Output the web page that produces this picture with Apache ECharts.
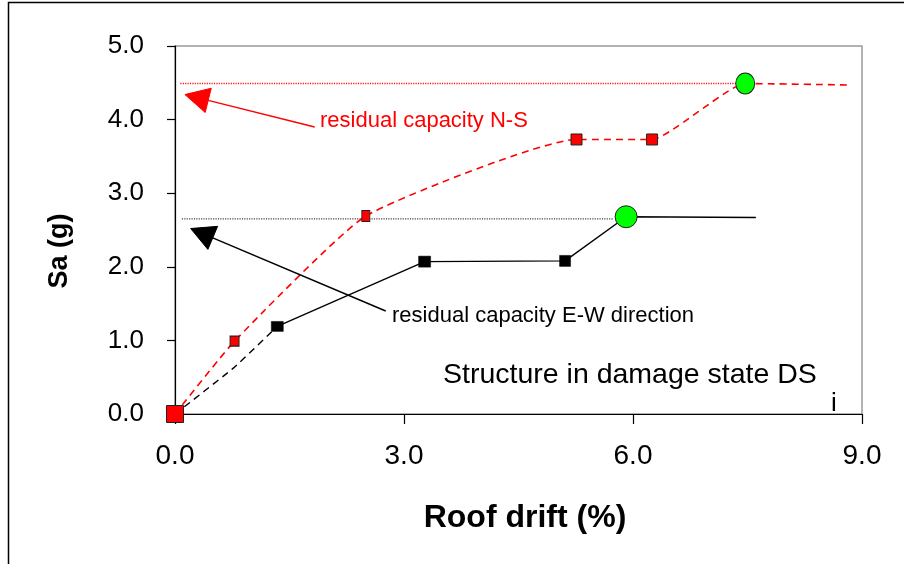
<!DOCTYPE html>
<html><head><meta charset="utf-8">
<script src="https://cdn.jsdelivr.net/npm/echarts@6/dist/echarts.min.js"></script>
<style>html,body{margin:0;padding:0;background:#fff}#c{width:904px;height:564px}</style>
</head><body><div id="c"></div>
<script>
// ---------- data ----------
const xTickLabels = ['0.0', '3.0', '6.0', '9.0'];
const yTickLabels = ['0.0', '1.0', '2.0', '3.0', '4.0', '5.0'];

// N-S capacity curve (red dashed, smoothed)
const nsDrift = [0, 0.78, 2.50, 5.26, 6.25, 7.47, 8.86];
const nsSa    = [0, 0.99, 2.69, 3.73, 3.73, 4.49, 4.47];

// E-W capacity curve: dashed start, then solid
const ewDashDrift = [0, 0.76, 1.34];
const ewDashSa    = [0, 0.62, 1.19];
const ewDrift = [1.34, 3.27, 5.11, 5.91, 7.61];
const ewSa    = [1.19, 2.07, 2.08, 2.68, 2.67];

// marked points
const nsSquareIdx = [0, 1, 2, 3, 4];
const nsCircleIdx = [5];
const ewSquareIdx = [0, 1, 2];
const ewCircleIdx = [3];

// residual capacity levels (dotted)
const nsResidualSa = 4.49, nsResidualFrom = 0.07, nsResidualTo = 7.35;
const ewResidualSa = 2.65, ewResidualFrom = 0.09, ewResidualTo = 5.75;

// annotation arrows [fromX, fromY, toX(tip), toY(tip)]
const arrowFrom = [[1.83, 3.90], [2.76, 1.40]];
const arrowTip  = [[0.13, 4.34], [0.205, 2.52]];

// ---------- styles ----------
const FONT = "'Liberation Sans', Arial, sans-serif";
const nsSquareSizes = [[17, 17], [9, 10], [8, 11], [11, 11], [11, 11]];
const nsCircleSizes = [[19, 21]];
const ewSquareSizes = [[12, 10], [12, 11], [11, 11]];
const ewCircleSizes = [[22, 22]];
const arrowColors = ['#ff0000', '#000000'];

const zip = (a, b) => a.map((v, i) => [v, b[i]]);
const pick = (xs, ys, idx) => idx.map(i => [xs[i], ys[i]]);

const chart = echarts.init(document.getElementById('c'), null, {renderer: 'canvas'});
const option = {
  animation: false,
  backgroundColor: '#ffffff',
  grid: {left: 175, right: 42, top: 46, bottom: 150, show: true, borderColor: '#9a9a9a', borderWidth: 1.5, backgroundColor: 'transparent'},
  xAxis: {
    type: 'value', min: 0, max: 9, interval: 3,
    axisLine: {show: true, onZero: false, lineStyle: {color: '#000', width: 1.2}},
    axisTick: {show: true, inside: false, length: 10, lineStyle: {color: '#000', width: 1.2}},
    splitLine: {show: false},
    axisLabel: {margin: 28, fontFamily: FONT, fontSize: 28, color: '#000',
      formatter: v => xTickLabels[Math.round(v / 3)]}
  },
  yAxis: {
    type: 'value', min: 0, max: 5, interval: 1,
    axisLine: {show: true, onZero: false, lineStyle: {color: '#000', width: 1.2}},
    axisTick: {show: true, inside: false, length: 8, lineStyle: {color: '#000', width: 1.2}},
    splitLine: {show: false},
    axisLabel: {margin: 31, fontFamily: FONT, fontSize: 26, color: '#000',
      formatter: v => yTickLabels[Math.round(v)]}
  },
  graphic: [
    {type: 'rect', shape: {x: 8.5, y: 2.5, width: 2000, height: 2000}, style: {fill: 'none', stroke: '#000', lineWidth: 1.5}, z: 100},
    {type: 'text', x: 60, y: 251, rotation: Math.PI / 2,
      style: {text: 'Sa (g)', fontFamily: FONT, fontWeight: 'bold', fontSize: 27, fill: '#000', align: 'center', verticalAlign: 'middle'}},
    {type: 'text', x: 525, y: 518,
      style: {text: 'Roof drift (%)', fontFamily: FONT, fontWeight: 'bold', fontSize: 32, fill: '#000', align: 'center', verticalAlign: 'middle'}},
    {type: 'text', x: 320, y: 121,
      style: {text: 'residual capacity N-S', fontFamily: FONT, fontSize: 22, fill: '#ff0000', align: 'left', verticalAlign: 'middle'}},
    {type: 'text', x: 392, y: 316,
      style: {text: 'residual capacity E-W direction', fontFamily: FONT, fontSize: 22, fill: '#000', align: 'left', verticalAlign: 'middle'}},
    {type: 'text', x: 443, y: 375,
      style: {text: 'Structure in damage state DS', fontFamily: FONT, fontSize: 28.5, fill: '#000', align: 'left', verticalAlign: 'middle'}},
    {type: 'text', x: 831, y: 404,
      style: {text: 'i', fontFamily: FONT, fontSize: 26, fill: '#000', align: 'left', verticalAlign: 'middle'}}
  ],
  series: [
    {type: 'line', data: [[nsResidualFrom, nsResidualSa], [nsResidualTo, nsResidualSa]], symbol: 'none',
      lineStyle: {color: '#ff1010', width: 1.4, type: [1.2, 1.2]}, z: 2},
    {type: 'line', data: [[ewResidualFrom, ewResidualSa], [ewResidualTo, ewResidualSa]], symbol: 'none',
      lineStyle: {color: '#444', width: 1.3, type: [1.2, 1.2]}, z: 2},
    {type: 'line', data: zip(nsDrift, nsSa), symbol: 'none', smooth: 0.15,
      lineStyle: {color: '#ff0000', width: 1.6, type: [7, 5]}, z: 3},
    {type: 'line', data: zip(ewDashDrift, ewDashSa), symbol: 'none', smooth: 0.15,
      lineStyle: {color: '#000', width: 1.4, type: [7, 5]}, z: 3},
    {type: 'line', data: zip(ewDrift, ewSa), symbol: 'none',
      lineStyle: {color: '#000', width: 1.4, type: 'solid'}, z: 3},
    {type: 'custom', z: 4, clip: false,
      data: arrowFrom.map((f, i) => [f[0], f[1], arrowTip[i][0], arrowTip[i][1]]),
      encode: {x: [0, 2], y: [1, 3]},
      renderItem: function (params, api) {
        const p1 = api.coord([api.value(0), api.value(1)]);
        const p2 = api.coord([api.value(2), api.value(3)]);
        const dx = p1[0] - p2[0], dy = p1[1] - p2[1];
        const len = Math.sqrt(dx * dx + dy * dy);
        const ux = dx / len, uy = dy / len;
        const L = 24, W = 12.5;
        const bx = p2[0] + ux * L, by = p2[1] + uy * L;
        const c = arrowColors[params.dataIndex];
        return {type: 'group', children: [
          {type: 'line', shape: {x1: p1[0], y1: p1[1], x2: bx, y2: by}, style: {stroke: c, lineWidth: 1.5}},
          {type: 'polygon', shape: {points: [[p2[0], p2[1]], [bx - uy * W, by + ux * W], [bx + uy * W, by - ux * W]]},
            style: {fill: c, stroke: c, lineWidth: 1}}
        ]};
      }},
    {type: 'scatter', data: pick(nsDrift, nsSa, nsSquareIdx), symbol: 'rect',
      symbolSize: (v, p) => nsSquareSizes[p.dataIndex],
      itemStyle: {color: '#ff0000', borderColor: '#222', borderWidth: 1, opacity: 1}, z: 5},
    {type: 'scatter', data: pick(nsDrift, nsSa, nsCircleIdx), symbol: 'circle',
      symbolSize: (v, p) => nsCircleSizes[p.dataIndex],
      itemStyle: {color: '#00ff00', borderColor: '#222', borderWidth: 1, opacity: 1}, z: 5},
    {type: 'scatter', data: pick(ewDrift, ewSa, ewSquareIdx), symbol: 'rect',
      symbolSize: (v, p) => ewSquareSizes[p.dataIndex],
      itemStyle: {color: '#000', borderColor: '#000', borderWidth: 0.5, opacity: 1}, z: 5},
    {type: 'scatter', data: pick(ewDrift, ewSa, ewCircleIdx), symbol: 'circle',
      symbolSize: (v, p) => ewCircleSizes[p.dataIndex],
      itemStyle: {color: '#00ff00', borderColor: '#222', borderWidth: 1, opacity: 1}, z: 5}
  ]
};
chart.setOption(option);
</script>
</body></html>
